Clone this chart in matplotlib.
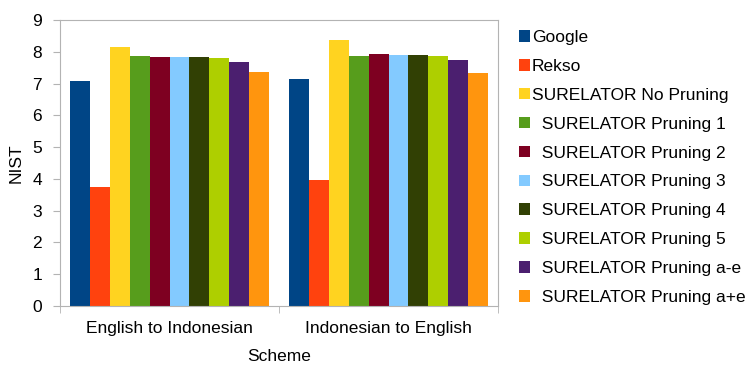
import matplotlib
matplotlib.use('Agg')
import matplotlib.pyplot as plt
import numpy as np

plt.rcParams['font.family'] = ['Liberation Sans', 'DejaVu Sans']

# data
categories = ['English to Indonesian', 'Indonesian to English']
series = ['Google', 'Rekso', 'SURELATOR No Pruning',
          '  SURELATOR Pruning 1', '  SURELATOR Pruning 2', '  SURELATOR Pruning 3',
          '  SURELATOR Pruning 4', '  SURELATOR Pruning 5',
          '  SURELATOR Pruning a-e', '  SURELATOR Pruning a+e']
values = [
    [7.08, 7.15],   # Google
    [3.75, 3.96],   # Rekso
    [8.14, 8.36],   # No Pruning
    [7.86, 7.88],   # Pruning 1
    [7.84, 7.92],   # Pruning 2
    [7.82, 7.90],   # Pruning 3
    [7.82, 7.90],   # Pruning 4
    [7.81, 7.88],   # Pruning 5
    [7.67, 7.74],   # Pruning a-e
    [7.37, 7.32],   # Pruning a+e
]
colors = ['#004586', '#ff420e', '#ffd320', '#579d1c', '#7e0021',
          '#83caff', '#314004', '#aecf00', '#4b1f6f', '#ff950e']

fs = 12.5
fig = plt.figure(figsize=(7.53, 3.65), dpi=100)
ax = fig.add_axes([60/753, 1 - 306/365, 438/753, 286/365])

x = np.arange(len(categories))
n = len(series)
w = 0.907 / n
for i, (name, vals, c) in enumerate(zip(series, values, colors)):
    ax.bar(x - 0.4535 + w * (i + 0.5), vals, width=w, color=c, label=name)

ax.set_xlim(-0.5, 1.5)
ax.set_ylim(0, 9)
ax.set_yticks(range(10))
ax.set_xticks(x)
ax.set_xticklabels(categories, fontsize=fs)
ax.set_xticks([-0.5, 0.5, 1.5], minor=True)
ax.tick_params(axis='x', which='major', length=0, pad=10.5)
ax.tick_params(axis='x', which='minor', length=5, color='#b3b3b3')
ax.tick_params(axis='y', length=5, color='#b3b3b3', labelsize=fs, pad=8)
for s in ax.spines.values():
    s.set_color('#b3b3b3')
ax.set_ylabel('NIST', fontsize=fs, labelpad=6)
ax.set_xlabel('Scheme', fontsize=fs, labelpad=10)

ax.legend(loc='upper left', bbox_to_anchor=(519/753, 1 - 30/365),
          bbox_transform=fig.transFigure, frameon=False, fontsize=fs,
          handlelength=0.65, handleheight=0.65, handletextpad=0.1,
          labelspacing=0.8, borderaxespad=0, borderpad=0)

fig.savefig('out.png', dpi=100)
